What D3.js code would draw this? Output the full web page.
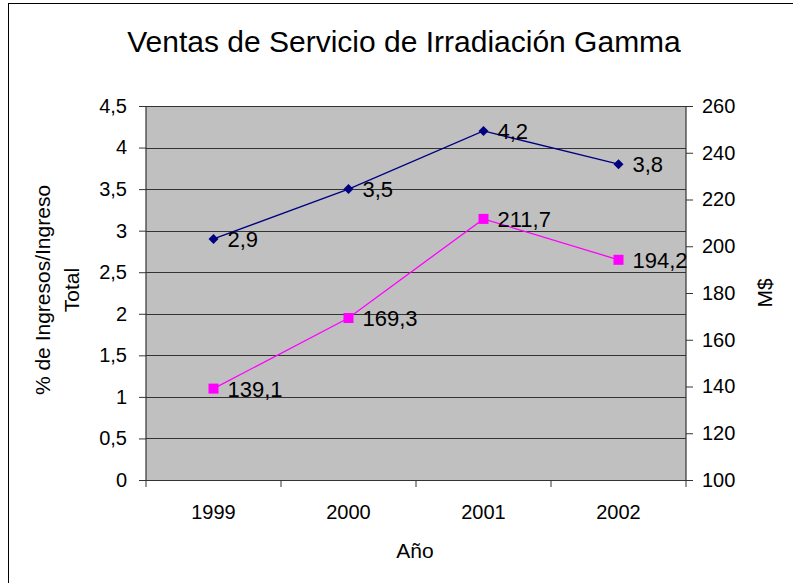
<!DOCTYPE html>
<html>
<head>
<meta charset="utf-8">
<script src="https://cdn.jsdelivr.net/npm/d3@7"></script>
<style>
  body { margin: 0; background: #fff; }
  svg text { font-family: Arial, "Liberation Sans", sans-serif; fill: #000; }
</style>
</head>
<body>
<svg id="chart" width="793" height="583"></svg>
<script>
  'use strict';

  var years = ['1999', '2000', '2001', '2002'];
  var pctIngresos = [2.9, 3.5, 4.2, 3.8];
  var ventasMS = [139.1, 169.3, 211.7, 194.2];
  var leftTicks = [0, 0.5, 1, 1.5, 2, 2.5, 3, 3.5, 4, 4.5];
  var rightTicks = [100, 120, 140, 160, 180, 200, 220, 240, 260];

  // decimal comma
  var fmt = function(v) { return String(v).replace('.', ','); };

  var svg = d3.select('#chart');
  var margin = {top: 106, right: 107, bottom: 103, left: 146},
    width = 793 - margin.left - margin.right,
    height = 583 - margin.top - margin.bottom;

  // outer frame
  svg.append('rect')
    .attr('x', 8.5).attr('y', 3.5)
    .attr('width', 790).attr('height', 590)
    .attr('fill', 'none').attr('stroke', '#000').attr('stroke-width', 1);

  svg.append('text')
    .attr('x', 404).attr('y', 52)
    .attr('text-anchor', 'middle')
    .style('font-size', '30px')
    .text('Ventas de Servicio de Irradiación Gamma');

  var g = svg.append('g').attr('transform', 'translate(' + margin.left + ',' + margin.top + ')');

  var x = d3.scaleBand().domain(years).range([0, width]);
  var y = d3.scaleLinear().domain([0, 4.5]).range([height, 0]);
  var y2 = d3.scaleLinear().domain([100, 260]).range([height, 0]);

  g.append('rect')
    .attr('width', width).attr('height', height)
    .attr('fill', '#c0c0c0');

  // gridlines
  g.append('g')
    .selectAll('line')
    .data(leftTicks)
    .join('line')
    .attr('x1', 0).attr('x2', width)
    .attr('y1', function(d) { return Math.round(y(d)) + 0.5; })
    .attr('y2', function(d) { return Math.round(y(d)) + 0.5; })
    .attr('stroke', '#333');

  var yAxis = g.append('g')
    .call(d3.axisLeft(y).tickValues(leftTicks).tickFormat(fmt).tickSize(7).tickPadding(12));

  var y2Axis = g.append('g')
    .attr('transform', 'translate(' + width + ',0)')
    .call(d3.axisRight(y2).tickValues(rightTicks).tickSize(7).tickPadding(9));

  var xAxis = g.append('g')
    .attr('transform', 'translate(0,' + height + ')')
    .call(d3.axisBottom(x).tickSize(0).tickPadding(25));

  // category separators on x axis
  xAxis.selectAll('.sep')
    .data(d3.range(years.length + 1))
    .join('line')
    .attr('class', 'sep')
    .attr('x1', function(i) { return i * x.bandwidth(); })
    .attr('x2', function(i) { return i * x.bandwidth(); })
    .attr('y1', 0).attr('y2', 7)
    .attr('stroke', '#333');

  [yAxis, y2Axis, xAxis].forEach(function(a) {
    a.selectAll('.domain').attr('stroke', '#333').attr('stroke-width', 1.2);
    a.selectAll('.tick line').attr('stroke', '#333');
    a.selectAll('text').style('font-size', '20px').attr('fill', '#000');
  });
  y2Axis.select('.domain').attr('d', 'M0,0V' + height);
  yAxis.select('.domain').attr('d', 'M0,0V' + height);

  var cx = function(d, i) { return x(years[i]) + x.bandwidth() / 2; };

  // % series
  g.append('path')
    .datum(pctIngresos)
    .attr('fill', 'none').attr('stroke', '#000080').attr('stroke-width', 1.3)
    .attr('d', d3.line().x(cx).y(function(d) { return y(d); }));

  g.append('g').selectAll('path')
    .data(pctIngresos)
    .join('path')
    .attr('d', d3.symbol(d3.symbolSquare, 50))
    .attr('transform', function(d, i) { return 'translate(' + cx(d, i) + ',' + y(d) + ') rotate(45)'; })
    .attr('fill', '#000080');

  g.append('g').selectAll('text')
    .data(pctIngresos)
    .join('text')
    .attr('x', function(d, i) { return cx(d, i) + 14; })
    .attr('y', function(d) { return y(d) + 8; })
    .style('font-size', '22px')
    .text(fmt);

  // M$ series
  g.append('path')
    .datum(ventasMS)
    .attr('fill', 'none').attr('stroke', '#ff00ff').attr('stroke-width', 1.3)
    .attr('d', d3.line().x(cx).y(function(d) { return y2(d); }));

  g.append('g').selectAll('rect')
    .data(ventasMS)
    .join('rect')
    .attr('x', function(d, i) { return cx(d, i) - 5; })
    .attr('y', function(d) { return y2(d) - 5; })
    .attr('width', 10).attr('height', 10)
    .attr('fill', '#ff00ff');

  g.append('g').selectAll('text')
    .data(ventasMS)
    .join('text')
    .attr('x', function(d, i) { return cx(d, i) + 14; })
    .attr('y', function(d) { return y2(d) + 8; })
    .style('font-size', '22px')
    .text(fmt);

  // axis titles
  svg.append('text')
    .attr('transform', 'translate(50,290) rotate(-90)')
    .attr('text-anchor', 'middle')
    .style('font-size', '21px')
    .text('% de Ingresos/Ingreso');
  svg.append('text')
    .attr('transform', 'translate(79,290) rotate(-90)')
    .attr('text-anchor', 'middle')
    .style('font-size', '21px')
    .text('Total');
  svg.append('text')
    .attr('transform', 'translate(772,293) rotate(-90)')
    .attr('text-anchor', 'middle')
    .style('font-size', '21px')
    .text('M$');
  svg.append('text')
    .attr('x', 415).attr('y', 558)
    .attr('text-anchor', 'middle')
    .style('font-size', '21px')
    .text('Año');
</script>
</body>
</html>
